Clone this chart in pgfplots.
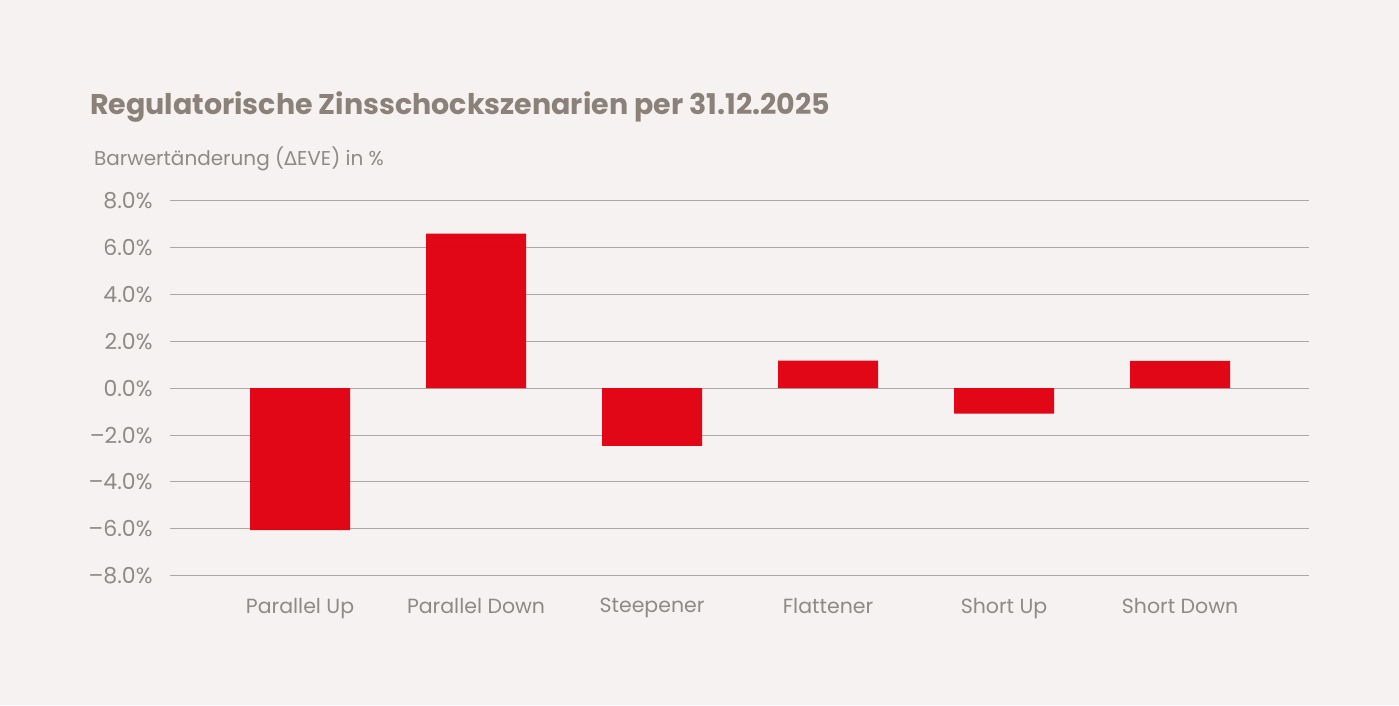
\documentclass[border=0pt]{standalone}
\usepackage{pgfplots}
\pgfplotsset{compat=1.18}
\usepackage{fontspec}
\setmainfont{Poppins}
\newfontfamily\symfont{DejaVu Sans}
\definecolor{bg}{HTML}{F5F2F1}
\definecolor{titlecol}{HTML}{8B8178}
\definecolor{labcol}{HTML}{8E8A86}
\definecolor{gridcol}{HTML}{ABA7A4}
\definecolor{barcol}{HTML}{E2000F}
\begin{document}
\begin{tikzpicture}[x=1pt,y=1pt]
\fill[bg] (0,0) rectangle (1399,705);
\node[anchor=base west, inner sep=0, text=titlecol, font=\fontsize{28.5}{34}\selectfont\bfseries] at (90,590) {Regulatorische Zinsschockszenarien per 31.12.2025};
\node[anchor=base west, inner sep=0, text=labcol, font=\fontsize{20}{24}\selectfont] at (94,539) {Barwertänderung ({\symfont\fontsize{19}{23}\selectfont Δ}EVE) in \%};
\begin{axis}[
  at={(170pt,129.3pt)}, anchor=south west,
  scale only axis, width=1139pt, height=375pt,
  xmin=-0.739, xmax=5.733, ymin=-8, ymax=8,
  axis line style={draw=none},
  ytick={-8,-6,-4,-2,0,2,4,6,8},
  yticklabels={--8.0\%,--6.0\%,--4.0\%,--2.0\%,0.0\%,2.0\%,4.0\%,6.0\%,8.0\%},
  xtick={0,1,2,3,4,5},
  xticklabels={Parallel Up,Parallel Down,Steepener,Flattener,Short Up,Short Down},
  major tick length=0pt,
  ymajorgrids, grid style={gridcol, line width=1pt},
  tick label style={text=labcol},
  yticklabel style={xshift=-14pt, font=\fontsize{22}{26}\selectfont},
  xticklabel style={yshift=-19pt, font=\fontsize{20.5}{24}\selectfont},
  /pgf/number format/assume math mode=true,
  clip=false,
]
\addplot[ybar, bar width=100pt, fill=barcol, draw=none, opacity=0.97] coordinates {
(0,-6.05) (1,6.59) (2,-2.46) (3,1.18) (4,-1.08) (5,1.17)
};
\end{axis}
\end{tikzpicture}
\end{document}
